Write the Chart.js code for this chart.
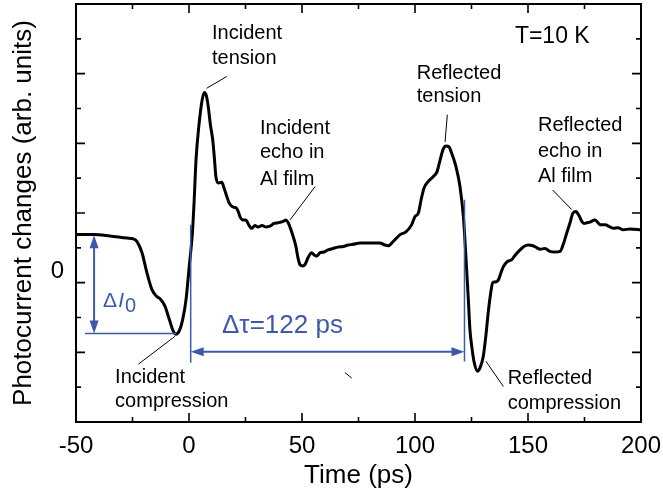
<!DOCTYPE html>
<html>
<head>
<meta charset="utf-8">
<script src="https://cdn.jsdelivr.net/npm/chart.js@4.4.1/dist/chart.umd.min.js"></script>
<style>
  html, body { margin: 0; padding: 0; background: #fff; overflow: hidden; }
  canvas { display: block; }
</style>
</head>
<body>
<canvas id="pulseChart" width="663" height="493"></canvas>
<script>
// Time axis (ps) and photocurrent trace
var timePs = [-50, -42.5, -35, -27.4, -24.8, -23, -20.8, -18.6, -16.4, -14.2, -12.8, -10.6, -8.7, -6.9, -5.9, -4.3, -2.8, -1.3, 0.1, 1.5,
  2.3, 3.1, 4.4, 5.8, 6.8, 7.7, 8.5, 9.5, 10.5, 11.3, 11.9, 13.1, 14.5, 15.5, 16.7, 17.7, 18.8, 19.9, 21, 21.8,
  22.8, 24, 25.2, 26.1, 27.7, 29.2, 30.5, 32.3, 34.1, 35.8, 37.6, 39.4, 41.7, 42.9, 43.9, 45.1, 46.1, 47.3, 48.2, 49.1,
  50.4, 51.3, 52.7, 54.3, 55.3, 56.5, 58, 59.7, 61.5, 63.7, 65.9, 68.3, 70.4, 72.6, 75.7, 78.3, 81, 84.5, 86.7, 88.2,
  90.3, 93.4, 96, 98.5, 100, 101.5, 102.7, 104, 105.8, 108, 109.7, 111.1, 112.4, 113.7, 115, 116.2, 118.1, 119.9, 121.4, 122.6,
  123.6, 124.3, 125.1, 126.1, 127.7, 128.8, 130.2, 131.4, 132.4, 133.4, 134.4, 135.4, 136.9, 138, 139.1, 140.7, 142.8, 144.2, 146.5, 148.2,
  150.1, 152.2, 154, 155.3, 157.5, 159.7, 162, 164.2, 165.5, 167.1, 168.6, 169.9, 171.2, 172.6, 173.8, 174.8, 176, 177.4, 179.6, 181,
  181.9, 184.1, 186.3, 187.8, 189.8, 192.2, 195.1, 200];
var photocurrent = [0.69, 0.69, 0.67, 0.64, 0.63, 0.59, 0.43, 0.14, -0.10, -0.20, -0.23, -0.34, -0.53, -0.70, -0.74, -0.69, -0.53, -0.24, 0.23, 0.71,
  1.19, 1.76, 2.26, 2.62, 2.73, 2.68, 2.53, 2.26, 2.05, 1.76, 1.52, 1.43, 1.44, 1.36, 1.24, 1.15, 1.10, 1.08, 1.07, 1.02,
  0.93, 0.90, 0.90, 0.85, 0.78, 0.82, 0.80, 0.82, 0.80, 0.81, 0.85, 0.86, 0.88, 0.90, 0.86, 0.76, 0.66, 0.52, 0.36, 0.26,
  0.24, 0.26, 0.36, 0.43, 0.40, 0.38, 0.43, 0.44, 0.47, 0.49, 0.51, 0.52, 0.54, 0.55, 0.57, 0.57, 0.57, 0.57, 0.54, 0.53,
  0.59, 0.69, 0.73, 0.83, 0.95, 1.00, 1.19, 1.36, 1.45, 1.52, 1.59, 1.76, 1.91, 1.96, 1.95, 1.86, 1.67, 1.38, 0.95, 0.33,
  -0.24, -0.67, -0.91, -1.13, -1.27, -1.22, -1.06, -0.75, -0.43, -0.17, 0.0, 0.01, 0.04, 0.14, 0.23, 0.30, 0.33, 0.39, 0.47, 0.52,
  0.54, 0.53, 0.50, 0.48, 0.49, 0.45, 0.44, 0.45, 0.54, 0.71, 0.86, 1.00, 1.02, 0.96, 0.88, 0.85, 0.86, 0.87, 0.90, 0.86,
  0.83, 0.83, 0.80, 0.78, 0.79, 0.76, 0.77, 0.76];

var xRange = [-50, 200];
var yRange = [-2, 4];
var xTickStep = 50;
var yTickStep = 0.5;

var FONT = "'Liberation Sans', Arial, Helvetica, sans-serif";
var BLUE = '#3C5AA8';

// annotation text lines: [text, time, value] (left aligned, baseline)
var notes = [
  ['Incident', 10.2, 3.50], ['tension', 10.2, 3.14],
  ['Incident', 31.4, 2.14], ['echo in', 31.4, 1.79], ['Al film', 31.4, 1.40],
  ['Reflected', 100.8, 2.92], ['tension', 100.8, 2.59],
  ['Reflected', 154.4, 2.17], ['echo in', 154.4, 1.81], ['Al film', 154.4, 1.45],
  ['Incident', -32.7, -1.44], ['compression', -32.7, -1.78],
  ['Reflected', 141, -1.46], ['compression', 141, -1.81]
];
// leader lines: [t1, v1, t2, v2]
var leaders = [
  [16.7, 2.96, 7.8, 2.79],
  [55.8, 1.38, 44.7, 0.90],
  [114.3, 2.41, 113.3, 2.02],
  [160.9, 1.33, 169.3, 1.05],
  [-22.4, -1.17, -6.2, -0.77],
  [139.1, -1.49, 131.4, -1.13],
  [69, -1.29, 72, -1.37]
];

var points = timePs.map(function (t, i) { return { x: t, y: photocurrent[i] }; });

function arrowHead(ctx, x, y, dir) {
  var L = 13, W = 4.5;
  ctx.beginPath();
  ctx.moveTo(x, y);
  if (dir === 'up') { ctx.lineTo(x - W, y + L); ctx.lineTo(x + W, y + L); }
  if (dir === 'down') { ctx.lineTo(x - W, y - L); ctx.lineTo(x + W, y - L); }
  if (dir === 'left') { ctx.lineTo(x + L, y - W); ctx.lineTo(x + L, y + W); }
  if (dir === 'right') { ctx.lineTo(x - L, y - W); ctx.lineTo(x - L, y + W); }
  ctx.closePath();
  ctx.fill();
}

// scales add label padding to the layout; the figure's frame doesn't
function noEdgePadding(s) {
  s.paddingTop = 0; s.paddingBottom = 0; s.paddingLeft = 0; s.paddingRight = 0;
}

// frame with inward ticks on all four sides
var framePlugin = {
  id: 'frame',
  afterDraw: function (chart) {
    var ctx = chart.ctx, a = chart.chartArea;
    var sx = chart.scales.x, sy = chart.scales.y;
    ctx.save();
    ctx.strokeStyle = '#000';
    ctx.lineWidth = 2;
    ctx.strokeRect(a.left, a.top, a.right - a.left, a.bottom - a.top);
    ctx.lineWidth = 1.6;
    ctx.beginPath();
    for (var t = xRange[0]; t <= xRange[1]; t += xTickStep / 2) {
      var x = sx.getPixelForValue(t);
      var len = (t % xTickStep === 0) ? 9 : 5;
      ctx.moveTo(x, a.bottom); ctx.lineTo(x, a.bottom - len);
      ctx.moveTo(x, a.top); ctx.lineTo(x, a.top + len);
    }
    for (var v = yRange[0]; v <= yRange[1]; v += yTickStep) {
      var y = sy.getPixelForValue(v);
      var l2 = (Math.abs(v - Math.round(v)) < 1e-6) ? 9 : 5;
      ctx.moveTo(a.left, y); ctx.lineTo(a.left + l2, y);
      ctx.moveTo(a.right, y); ctx.lineTo(a.right - l2, y);
    }
    ctx.stroke();
    ctx.restore();
  }
};

var notesPlugin = {
  id: 'notes',
  afterDatasetsDraw: function (chart) {
    var ctx = chart.ctx;
    var sx = chart.scales.x, sy = chart.scales.y;
    function X(t) { return sx.getPixelForValue(t); }
    function Y(v) { return sy.getPixelForValue(v); }
    ctx.save();

    // black labels
    ctx.fillStyle = '#000';
    ctx.textAlign = 'left';
    ctx.textBaseline = 'alphabetic';
    ctx.font = '20px ' + FONT;
    notes.forEach(function (n) { ctx.fillText(n[0], X(n[1]), Y(n[2])); });
    ctx.font = '23px ' + FONT;
    ctx.fillText('T=10 K', X(144.2), Y(3.44));

    ctx.strokeStyle = '#000';
    ctx.lineWidth = 1;
    ctx.beginPath();
    leaders.forEach(function (l) {
      ctx.moveTo(X(l[0]), Y(l[1]));
      ctx.lineTo(X(l[2]), Y(l[3]));
    });
    ctx.stroke();

    // blue markers
    ctx.strokeStyle = BLUE;
    ctx.fillStyle = BLUE;

    // amplitude arrow and baseline
    var ax = X(-42.0);
    ctx.lineWidth = 2;
    ctx.beginPath();
    ctx.moveTo(ax, Y(0.68) + 6); ctx.lineTo(ax, Y(-0.73) - 6);
    ctx.stroke();
    arrowHead(ctx, ax, Y(0.68), 'up');
    arrowHead(ctx, ax, Y(-0.73), 'down');
    ctx.lineWidth = 1.5;
    ctx.beginPath();
    ctx.moveTo(X(-46.0), Y(-0.73)); ctx.lineTo(X(-5.75), Y(-0.73));
    ctx.stroke();

    // delay markers
    ctx.beginPath();
    ctx.moveTo(X(0.75), Y(0.83)); ctx.lineTo(X(0.75), Y(-1.15));
    ctx.moveTo(X(121.9), Y(1.19)); ctx.lineTo(X(121.9), Y(-1.13));
    ctx.stroke();
    ctx.lineWidth = 2;
    ctx.beginPath();
    ctx.moveTo(X(0.75) + 6, Y(-0.99)); ctx.lineTo(X(121.9) - 6, Y(-0.99));
    ctx.stroke();
    arrowHead(ctx, X(0.75), Y(-0.99), 'left');
    arrowHead(ctx, X(121.9), Y(-0.99), 'right');

    ctx.font = '26px ' + FONT;
    ctx.fillText('\u0394\u03C4=122 ps', X(14.6), Y(-0.72));

    // ΔI0
    var dx = X(-38), dy = Y(-0.35);
    ctx.font = '21px ' + FONT;
    ctx.fillText('\u0394', dx, dy);
    dx += ctx.measureText('\u0394').width + 1;
    ctx.font = 'italic 21px ' + FONT;
    ctx.fillText('I', dx, dy);
    dx += ctx.measureText('I').width + 1;
    ctx.font = '20px ' + FONT;
    ctx.fillText('0', dx, dy + 4.5);

    ctx.restore();
  }
};

new Chart(document.getElementById('pulseChart').getContext('2d'), {
  type: 'line',
  data: {
    datasets: [{
      data: points,
      borderColor: '#000',
      borderWidth: 3,
      pointRadius: 0,
      fill: false,
      borderJoinStyle: 'round',
      cubicInterpolationMode: 'monotone'
    }]
  },
  options: {
    responsive: false,
    animation: false,
    devicePixelRatio: 1,
    layout: { padding: { top: 4, right: 22, left: 0, bottom: 0 } },
    plugins: { legend: { display: false }, tooltip: { enabled: false } },
    scales: {
      x: {
        type: 'linear',
        min: xRange[0], max: xRange[1],
        grid: { display: false, drawTicks: false },
        border: { display: false },
        ticks: { stepSize: xTickStep, color: '#000', font: { family: FONT, size: 24 }, padding: 10, maxRotation: 0, autoSkip: false },
        title: { display: true, text: 'Time (ps)', color: '#000', font: { family: FONT, size: 26 }, padding: { top: 0, bottom: 2 } },
        afterFit: function (s) { s.height = 71; noEdgePadding(s); }
      },
      y: {
        type: 'linear',
        min: yRange[0], max: yRange[1],
        grid: { display: false, drawTicks: false },
        border: { display: false },
        ticks: {
          stepSize: yTickStep, color: '#000', font: { family: FONT, size: 24 }, padding: 12, labelOffset: -11,
          callback: function (v) { return v === 0 ? '0' : null; }
        },
        title: { display: true, text: 'Photocurrent changes (arb. units)', color: '#000', font: { family: FONT, size: 26 }, padding: { top: 8, bottom: 0 } },
        afterFit: function (s) { s.width = 76; noEdgePadding(s); }
      }
    }
  },
  plugins: [framePlugin, notesPlugin]
});
</script>
</body>
</html>
